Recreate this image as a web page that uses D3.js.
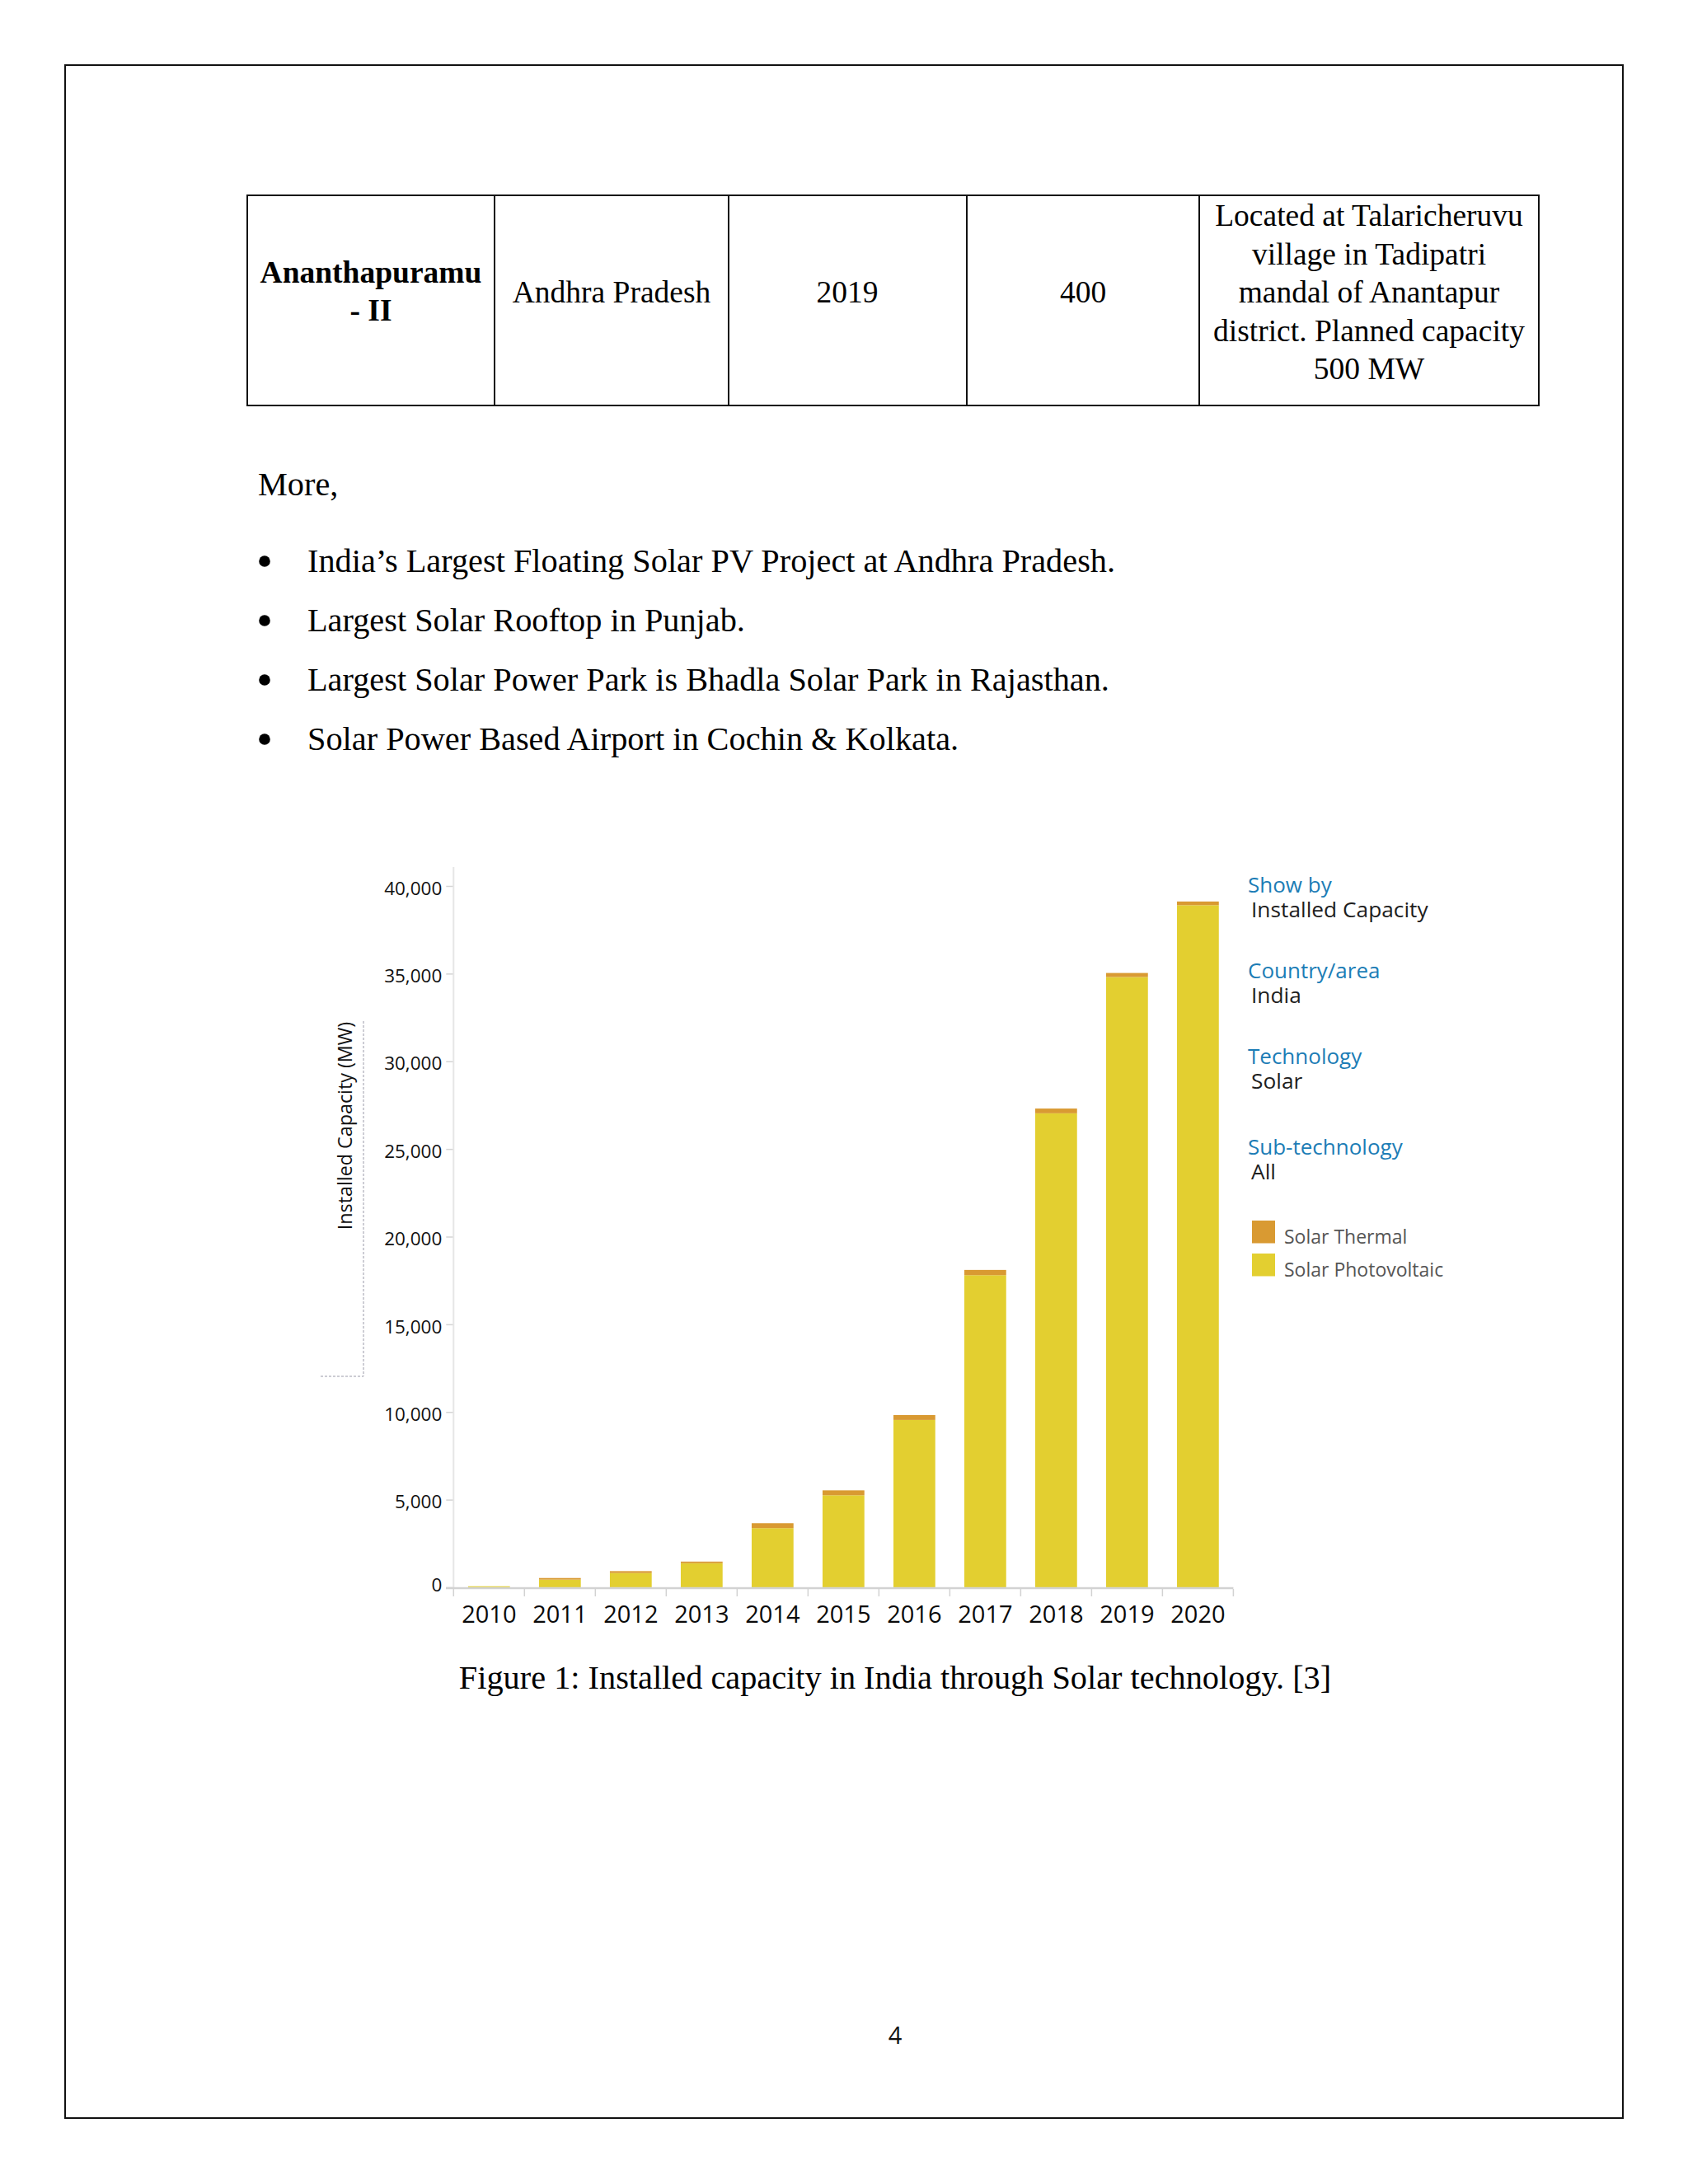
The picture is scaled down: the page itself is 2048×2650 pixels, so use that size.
<!DOCTYPE html>
<html>
<head>
<meta charset="utf-8">
<script src="https://cdn.jsdelivr.net/npm/d3@7"></script>
<style>
  html, body { margin: 0; padding: 0; background: #ffffff; }
  svg { display: block; }
</style>
</head>
<body>
<script>
// ---------------- DATA ----------------
const years = ["2010","2011","2012","2013","2014","2015","2016","2017","2018","2019","2020"];
const solarPV      = [60, 440, 815, 1375, 3375, 5250, 9546, 17802, 27035, 34807, 38904];
const solarThermal = [0,  90,  108,  92,  280,  280,  280,  300,   270,   230,   210];
const seriesNames  = ["Solar Photovoltaic", "Solar Thermal"];
const yTicks = [0, 5000, 10000, 15000, 20000, 25000, 30000, 35000, 40000];
const legendInfo = [["Show by","Installed Capacity"],["Country/area","India"],["Technology","Solar"],["Sub-technology","All"]];
const tableRow = ["Ananthapuramu", "- II", "Andhra Pradesh", "2019", "400"];
const tableNote = ["Located at Talaricheruvu","village in Tadipatri","mandal of Anantapur","district. Planned capacity","500 MW"];
const bullets = ["India\u2019s Largest Floating Solar PV Project at Andhra Pradesh.","Largest Solar Rooftop in Punjab.","Largest Solar Power Park is Bhadla Solar Park in Rajasthan.","Solar Power Based Airport in Cochin & Kolkata."];
const caption = "Figure 1: Installed capacity in India through Solar technology. [3]";

// ---------------- PAGE ----------------
const W = 2048, H = 2650;
const serif = "'Liberation Serif', 'Times New Roman', serif";
const sans = "'Open Sans', 'Noto Sans', sans-serif";
const svg = d3.select("body").append("svg").attr("width", W).attr("height", H);
svg.append("rect").attr("width", W).attr("height", H).attr("fill", "#ffffff");

// page border
svg.append("rect").attr("x", 79).attr("y", 79).attr("width", 1890).attr("height", 2491)
  .attr("fill", "none").attr("stroke", "#111").attr("stroke-width", 2);

// table
const tb = svg.append("g");
tb.append("rect").attr("x", 300).attr("y", 237).attr("width", 1567).attr("height", 255)
  .attr("fill", "none").attr("stroke", "#111").attr("stroke-width", 2);
[600, 884, 1173, 1455].forEach(x => tb.append("line").attr("x1", x).attr("x2", x)
  .attr("y1", 237).attr("y2", 492).attr("stroke", "#111").attr("stroke-width", 2));
const tfs = 37.5;
const bfs = 40.3;
tb.append("text").attr("x", 450).attr("y", 343).attr("text-anchor", "middle")
  .attr("font-family", serif).attr("font-weight", "bold").attr("font-size", tfs).text(tableRow[0]);
tb.append("text").attr("x", 450).attr("y", 389).attr("text-anchor", "middle")
  .attr("font-family", serif).attr("font-weight", "bold").attr("font-size", tfs).text(tableRow[1]);
[[742, tableRow[2]], [1028, tableRow[3]], [1314, tableRow[4]]].forEach(([x, t]) =>
  tb.append("text").attr("x", x).attr("y", 367).attr("text-anchor", "middle")
    .attr("font-family", serif).attr("font-size", tfs).text(t));
tableNote.forEach((t, i) => tb.append("text").attr("x", 1661).attr("y", 274 + i * 46.5)
  .attr("text-anchor", "middle").attr("font-family", serif).attr("font-size", tfs).text(t));

// body text
svg.append("text").attr("x", 313).attr("y", 601).attr("font-family", serif)
  .attr("font-size", bfs).text("More,");
bullets.forEach((t, i) => {
  const by = 694 + i * 72;
  svg.append("circle").attr("cx", 321).attr("cy", by - 13).attr("r", 6.8).attr("fill", "#000");
  svg.append("text").attr("x", 373).attr("y", by).attr("font-family", serif)
    .attr("font-size", bfs).text(t);
});

// caption & page number
svg.append("text").attr("x", 1086).attr("y", 2049).attr("text-anchor", "middle")
  .attr("font-family", serif).attr("font-size", bfs).text(caption);
svg.append("text").attr("x", 1086).attr("y", 2480).attr("text-anchor", "middle")
  .attr("font-family", sans).attr("font-size", 29).attr("fill", "#111").text("4");

// ---------------- CHART ----------------
const colPV = "#e3cf30", colTh = "#d99a32";
const x = d3.scaleBand().domain(years).range([550.3, 1496.4]).paddingInner(0.41).paddingOuter(0.205);
const y = d3.scaleLinear().domain([0, 40000]).range([1926, 1075]);

const g = svg.append("g");

// stacked bars
const rows = years.map((yr, i) => ({year: yr, "Solar Photovoltaic": solarPV[i], "Solar Thermal": solarThermal[i]}));
const stack = d3.stack().keys(seriesNames)(rows);
const color = d3.scaleOrdinal().domain(seriesNames).range([colPV, colTh]);
stack.forEach(layer => {
  g.append("g").attr("fill", color(layer.key)).selectAll("rect").data(layer).join("rect")
    .attr("x", d => x(d.data.year))
    .attr("width", x.bandwidth())
    .attr("y", d => y(d[1]))
    .attr("height", d => Math.max(0, y(d[0]) - y(d[1])));
});

// y axis
const yAxis = d3.axisLeft(y).tickValues(yTicks).tickSize(9).tickPadding(5)
  .tickFormat(d3.format(","));
const ya = g.append("g").attr("transform", "translate(550.3,0)").call(yAxis);
ya.select(".domain").remove();
ya.selectAll(".tick line").attr("stroke", "#d4d4d4").attr("stroke-width", 1.5);
ya.selectAll(".tick text").attr("font-family", sans).attr("font-size", 22.5).attr("fill", "#111")
  .attr("dy", d => d === 0 ? "0.22em" : "0.45em");
g.append("line").attr("x1", 550.3).attr("x2", 550.3).attr("y1", 1052).attr("y2", 1927)
  .attr("stroke", "#e6e6e6").attr("stroke-width", 2);

// x axis
const xa = g.append("g").attr("transform", "translate(0,1927)")
  .call(d3.axisBottom(x).tickSize(0).tickPadding(21));
xa.select(".domain").remove();
xa.selectAll(".tick text").attr("font-family", sans).attr("font-size", 29).attr("fill", "#0a0a0a");
g.append("line").attr("x1", 541).attr("x2", 1496.4).attr("y1", 1927).attr("y2", 1927)
  .attr("stroke", "#d2d2d2").attr("stroke-width", 2.5);
const bounds = d3.range(years.length + 1).map(i => x.range()[0] + i * x.step());
g.append("g").selectAll("line").data(bounds).join("line")
  .attr("x1", d => d).attr("x2", d => d).attr("y1", 1928).attr("y2", 1937)
  .attr("stroke", "#d2d2d2").attr("stroke-width", 1.5);

// y title
g.append("text").attr("transform", "translate(427,1366) rotate(-90)")
  .attr("text-anchor", "middle").attr("font-family", sans).attr("font-size", 23.3)
  .attr("fill", "#111").text("Installed Capacity (MW)");

// artifact dotted guide line
g.append("path").attr("d", "M441,1239 L441,1670 L388,1670").attr("fill", "none")
  .attr("stroke", "#9a9aa8").attr("stroke-width", 1).attr("stroke-dasharray", "3,2");

// legend / filter panel
const lg = svg.append("g");
const ly = [1083, 1187, 1291, 1401];
legendInfo.forEach(([h, v], i) => {
  const t = lg.append("text").attr("font-family", sans);
  t.append("tspan").attr("x", 1514).attr("y", ly[i]).attr("font-size", 26)
    .attr("fill", "#1c7db6").text(h);
  t.append("tspan").attr("x", 1518).attr("y", ly[i] + 29.5).attr("font-size", 26.3)
    .attr("fill", "#1e1e1e").text(v);
});
const legItems = ["Solar Thermal", "Solar Photovoltaic"];
legItems.forEach((name, i) => {
  const top = 1481 + i * 40;
  lg.append("rect").attr("x", 1519).attr("y", top).attr("width", 28).attr("height", 27.5)
    .attr("fill", color(name));
  lg.append("text").attr("x", 1558).attr("y", top + 28).attr("font-family", sans)
    .attr("font-size", 23).attr("fill", "#555").text(name);
});
</script>
</body>
</html>
